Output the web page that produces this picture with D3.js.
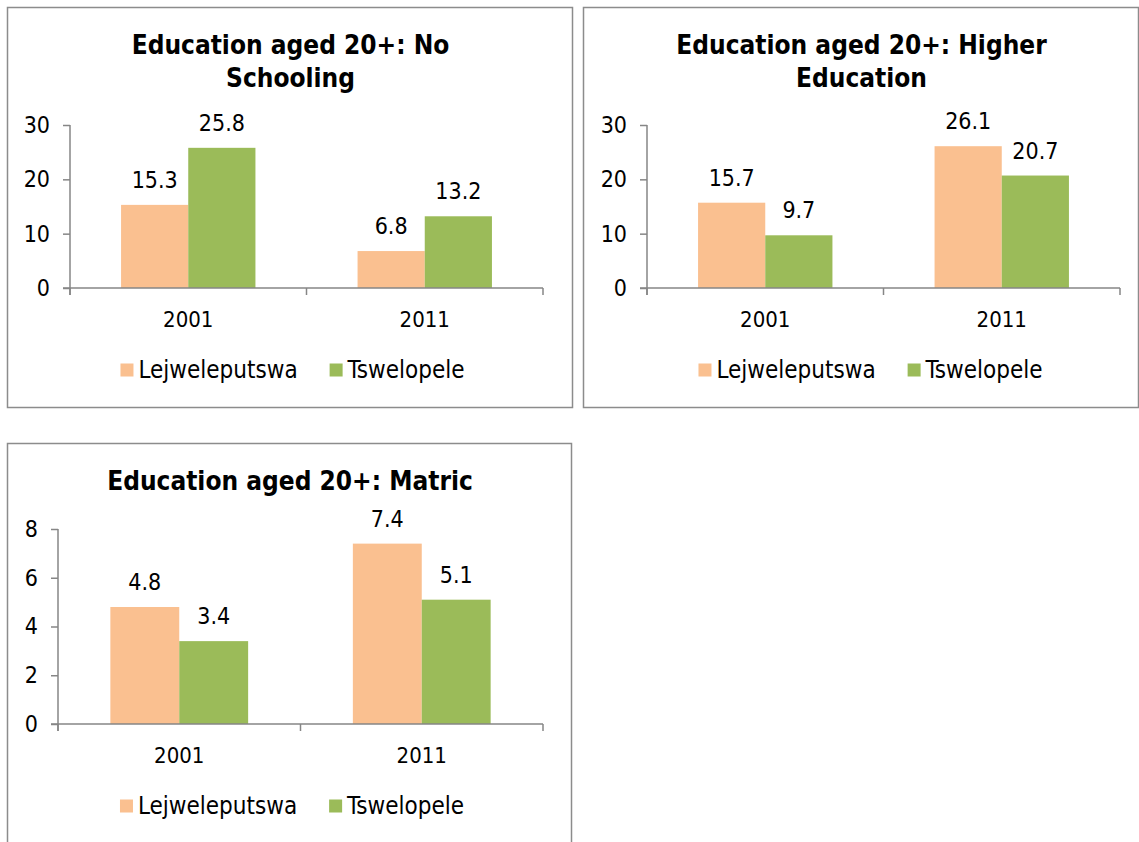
<!DOCTYPE html>
<html>
<head>
<meta charset="utf-8">
<script src="https://cdn.jsdelivr.net/npm/d3@7"></script>
<style>
  html, body { margin: 0; padding: 0; background: #ffffff; }
  svg { display: block; }
  text { font-family: "DejaVu Sans Condensed", "DejaVu Sans", sans-serif; fill: #000; }
</style>
</head>
<body>
<svg id="chart" width="1139" height="842"></svg>
<script>
// ---------------- DATA ----------------
const categories = ["2001", "2011"];
const seriesNames = ["Lejweleputswa", "Tswelopele"];

const titleNoSchooling = ["Education aged 20+: No", "Schooling"];
const titleHigher = ["Education aged 20+: Higher", "Education"];
const titleMatric = ["Education aged 20+: Matric"];

const noSchoolingLejweleputswa = [15.3, 6.8];
const noSchoolingTswelopele = [25.8, 13.2];

const higherLejweleputswa = [15.7, 26.1];
const higherTswelopele = [9.7, 20.7];

const matricLejweleputswa = [4.8, 7.4];
const matricTswelopele = [3.4, 5.1];

const ticksNoSchooling = [0, 10, 20, 30];
const ticksHigher = [0, 10, 20, 30];
const ticksMatric = [0, 2, 4, 6, 8];

// ---------------- STYLE / LAYOUT ----------------
const seriesColors = ["#FAC090", "#9BBB59"];
const axisColor = "#868686";
const borderColor = "#8C8C8C";
const fontFam = "\"DejaVu Sans Condensed\", \"DejaVu Sans\", sans-serif";

const panels = [
  { title: titleNoSchooling, values: [noSchoolingLejweleputswa, noSchoolingTswelopele], ticks: ticksNoSchooling,
    x: 7, y: 7, w: 565, h: 400, axL: 63, axR: 536, top: 118, bottom: 281, legShift: 3 },
  { title: titleHigher, values: [higherLejweleputswa, higherTswelopele], ticks: ticksHigher,
    x: 583, y: 7, w: 555, h: 400, axL: 64, axR: 537, top: 118, bottom: 281, legShift: 10 },
  { title: titleMatric, values: [matricLejweleputswa, matricTswelopele], ticks: ticksMatric,
    x: 7, y: 443, w: 564, h: 420, axL: 51, axR: 536, top: 86, bottom: 281, legShift: 3 }
];

const svg = d3.select("#chart");
svg.append("rect").attr("width", 1139).attr("height", 842).attr("fill", "#fff");

panels.forEach(p => {
  const g = svg.append("g").attr("transform", `translate(${p.x},${p.y})`);

  // border
  g.append("rect")
    .attr("x", 0.5).attr("y", 0.5)
    .attr("width", p.w).attr("height", p.h)
    .attr("fill", "#fff")
    .attr("stroke", borderColor)
    .attr("stroke-width", 1.5);

  // title
  const lineH = 33;
  p.title.forEach((line, i) => {
    g.append("text")
      .attr("x", p.w / 2 + 1)
      .attr("y", 38 + i * lineH)
      .attr("dy", "0.35em")
      .attr("text-anchor", "middle")
      .style("font-weight", "bold")
      .style("font-size", "26px")
      .text(line);
  });

  // scales
  const yMax = d3.max(p.ticks);
  const y = d3.scaleLinear().domain([0, yMax]).range([p.bottom, p.top]);
  const x0 = d3.scaleBand().domain(categories).range([p.axL, p.axR]).padding(0);
  const x1 = d3.scaleBand().domain(seriesNames).range([0, x0.bandwidth()])
    .paddingInner(0).paddingOuter(0.76);

  // bars + labels
  seriesNames.forEach((s, si) => {
    g.append("g").selectAll("rect")
      .data(p.values[si])
      .join("rect")
      .attr("x", (d, i) => x0(categories[i]) + x1(s))
      .attr("y", d => y(d))
      .attr("width", x1.bandwidth())
      .attr("height", d => y(0) - y(d))
      .attr("fill", seriesColors[si]);

    g.append("g").selectAll("text")
      .data(p.values[si])
      .join("text")
      .attr("x", (d, i) => x0(categories[i]) + x1(s) + x1.bandwidth() / 2)
      .attr("y", d => y(d) - 17)
      .attr("text-anchor", "middle")
      .style("font-size", "23px")
      .text(d => d3.format(".1f")(d));
  });

  // y axis
  const yAxis = d3.axisLeft(y).tickValues(p.ticks).tickSize(7).tickSizeOuter(0).tickPadding(13)
    .tickFormat(d3.format("d"));
  const ya = g.append("g").attr("transform", `translate(${p.axL},0)`).call(yAxis);
  ya.select(".domain").attr("stroke", axisColor).attr("stroke-width", 1.5)
    .attr("d", `M0,${p.top}V${p.bottom + 7}`);
  ya.selectAll(".tick line").attr("stroke", axisColor).attr("stroke-width", 1.5);
  ya.selectAll(".tick text").style("font-size", "23px").attr("fill", "#000")
    .style("font-family", fontFam);

  // x axis
  const xAxis = d3.axisBottom(x0).tickSize(0).tickPadding(23).tickSizeOuter(0);
  const xa = g.append("g").attr("transform", `translate(0,${p.bottom})`).call(xAxis);
  xa.select(".domain").attr("stroke", axisColor).attr("stroke-width", 1.5)
    .attr("d", `M${p.axL - 7},0H${p.axR}`);
  xa.selectAll(".tick text").style("font-size", "22px").attr("fill", "#000")
    .style("font-family", fontFam);
  const bounds = categories.map(c => x0(c)).concat([x0.range()[1]]);
  xa.append("g").selectAll("line")
    .data(bounds)
    .join("line")
    .attr("x1", d => d).attr("x2", d => d)
    .attr("y1", 0).attr("y2", 7)
    .attr("stroke", axisColor).attr("stroke-width", 1.5);

  // legend
  const legY = 363;
  const lg = g.append("g");
  let cursor = 0;
  seriesNames.forEach((s, si) => {
    const it = lg.append("g");
    it.append("rect").attr("x", 0).attr("y", legY - 6.5).attr("width", 13).attr("height", 13)
      .attr("fill", seriesColors[si]);
    const t = it.append("text").attr("x", 18).attr("y", legY).attr("dy", "0.35em")
      .style("font-size", "24px").text(s);
    const w = 18 + t.node().getComputedTextLength();
    it.attr("transform", `translate(${cursor},0)`);
    cursor += w + 32;
  });
  const totalW = cursor - 32;
  lg.attr("transform", `translate(${p.w / 2 - totalW / 2 + p.legShift},0)`);
});
</script>
</body>
</html>
